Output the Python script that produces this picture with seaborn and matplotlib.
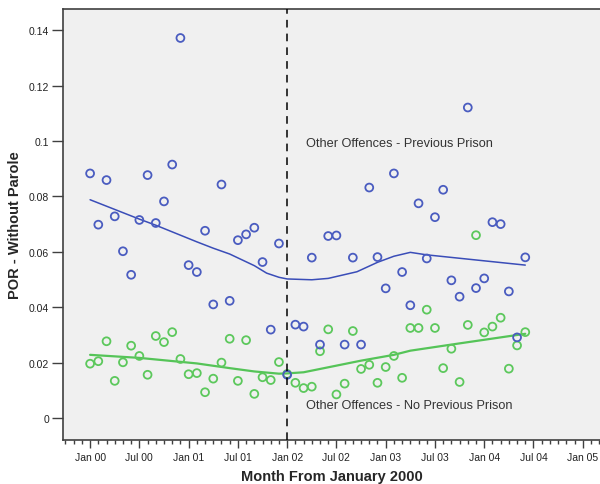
import numpy as np
import pandas as pd
import matplotlib.pyplot as plt
from matplotlib.ticker import FixedLocator, MultipleLocator
import seaborn as sns

# months since January 2000
months = list(range(54))

prev_prison = [0.0883, 0.0698, 0.0859, 0.0728, 0.0602, 0.0517, 0.0715, 0.0877, 0.0704,
               0.0782, 0.0915, 0.1372, 0.0552, 0.0527, 0.0676, 0.0410, 0.0843, 0.0423,
               0.0642, 0.0663, 0.0687, 0.0563, 0.0319, 0.0630, 0.0156, 0.0337, 0.0330,
               0.0579, 0.0265, 0.0657, 0.0659, 0.0265, 0.0579, 0.0265, 0.0832, 0.0581,
               0.0468, 0.0883, 0.0527, 0.0407, 0.0775, 0.0576, 0.0725, 0.0824, 0.0497,
               0.0438, 0.1121, 0.0469, 0.0504, 0.0707, 0.0700, 0.0457, 0.0291, 0.0580]

no_prev_prison = [0.0196, 0.0205, 0.0277, 0.0134, 0.0201, 0.0261, 0.0224, 0.0156, 0.0296,
                  0.0274, 0.0310, 0.0213, 0.0158, 0.0162, 0.0093, 0.0142, 0.0200, 0.0286,
                  0.0134, 0.0281, 0.0087, 0.0147, 0.0137, 0.0202, 0.0159, 0.0127, 0.0108,
                  0.0113, 0.0241, 0.0320, 0.0085, 0.0124, 0.0314, 0.0177, 0.0192, 0.0127,
                  0.0184, 0.0224, 0.0145, 0.0325, 0.0325, 0.0391, 0.0325, 0.0180, 0.0250,
                  0.0130, 0.0336, 0.0660, 0.0309, 0.0330, 0.0362, 0.0178, 0.0262, 0.0310]

# smoothed trend lines
prev_trend_months = [0, 6, 8, 13, 15, 17, 20, 21.5, 23, 24, 27, 29, 32.5, 35, 37, 39, 41, 53]
prev_trend = [0.0788, 0.0718, 0.0696, 0.0636, 0.0613, 0.0592, 0.0550, 0.0523, 0.0508,
              0.0502, 0.0499, 0.0504, 0.0528, 0.0562, 0.0584, 0.0598, 0.0589, 0.0552]
no_prev_trend_months = [0, 6, 13, 17, 20, 23, 24, 26, 30, 33, 37, 39, 44, 53]
no_prev_trend = [0.0228, 0.0217, 0.0197, 0.0180, 0.0168, 0.0160, 0.0161, 0.0165,
                 0.0189, 0.0207, 0.0228, 0.0243, 0.0265, 0.0304]

intervention_month = 24
tick_months = list(range(0, 61, 6))
tick_labels = ["Jan 00", "Jul 00", "Jan 01", "Jul 01", "Jan 02", "Jul 02",
               "Jan 03", "Jul 03", "Jan 04", "Jul 04", "Jan 05"]
y_ticks = [0, 0.02, 0.04, 0.06, 0.08, 0.10, 0.12, 0.14]
y_labels = ["0", "0.02", "0.04", "0.06", "0.08", "0.1", "0.12", "0.14"]

BLUE = "#4a5cc0"
BLUE_LINE = "#3a4db8"
GREEN = "#5cc85c"
GREEN_LINE = "#55c458"

sns.set_style("white")
plt.rcParams["font.family"] = ["Liberation Sans", "DejaVu Sans"]

fig = plt.figure(figsize=(6, 4.85), dpi=100)
ax = fig.add_axes([0.105, 0.091, 0.895, 0.888])
ax.set_facecolor("#f0f0f0")

points = pd.DataFrame({"month": months, "prev": prev_prison, "noprev": no_prev_prison})

sns.scatterplot(data=points, x="month", y="noprev", ax=ax, marker="o", s=32,
                facecolor="none", edgecolor=GREEN, linewidth=1.3, zorder=3)
sns.scatterplot(data=points, x="month", y="prev", ax=ax, marker="o", s=32,
                facecolor="none", edgecolor=BLUE, linewidth=1.3, zorder=3)

sns.lineplot(x=prev_trend_months, y=prev_trend, ax=ax, color=BLUE_LINE, lw=1.1,
             estimator=None, sort=False, zorder=2)
sns.lineplot(x=no_prev_trend_months, y=no_prev_trend, ax=ax, color=GREEN_LINE, lw=1.6,
             estimator=None, sort=False, zorder=2)

ax.axvline(intervention_month, color="black", lw=1.1, ls=(0, (5, 4)), zorder=4)

ax.text(26.3, 0.0992, "Other Offences - Previous Prison", fontsize=9.2,
        color="#333333", va="center")
ax.text(26.3, 0.0047, "Other Offences - No Previous Prison", fontsize=9.2,
        color="#333333", va="center")

ax.set_xlim(-3.3, 62.1)
ax.set_ylim(-0.0079, 0.1476)

ax.xaxis.set_major_locator(FixedLocator(tick_months))
ax.xaxis.set_minor_locator(MultipleLocator(1))
ax.set_xticklabels(tick_labels)
ax.set_yticks(y_ticks)
ax.set_yticklabels(y_labels)
ax.tick_params(axis="both", which="major", direction="out", width=1,
               color="#404040", labelsize=7.5, labelcolor="#222222",
               left=True, bottom=True)
ax.tick_params(axis="y", which="major", length=8, pad=2)
ax.tick_params(axis="x", which="major", length=6, pad=3)
ax.tick_params(axis="x", which="minor", direction="out", length=3, width=1,
               color="#404040", bottom=True)

for side in ["left", "bottom", "top"]:
    ax.spines[side].set_visible(True)
    ax.spines[side].set_color("#404040")
    ax.spines[side].set_linewidth(1.2)
ax.spines["right"].set_visible(False)

ax.set_xlabel("Month From January 2000", fontsize=10.5, fontweight="bold", labelpad=5)
ax.set_ylabel("POR - Without Parole", fontsize=10.5, fontweight="bold", labelpad=5)

fig.savefig("out.png", dpi=100)
